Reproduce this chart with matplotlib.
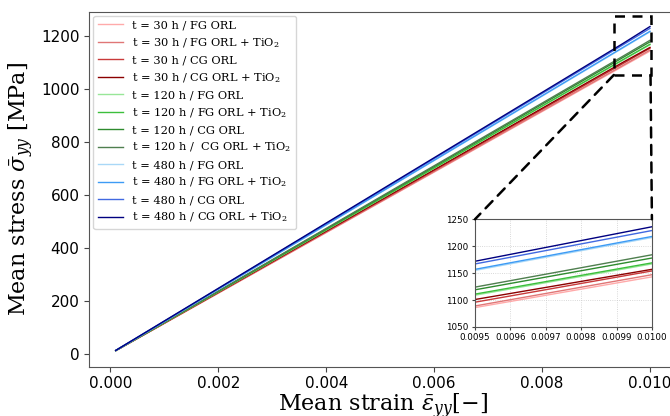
import matplotlib.pyplot as plt
from matplotlib.patches import Rectangle, ConnectionPatch

plt.rcParams['mathtext.fontset'] = 'dejavuserif'

# strain points where the stress was sampled
strain = [0.0001, 0.0095, 0.0100]

labels = [
    't = 30 h / FG ORL',
    't = 30 h / FG ORL + TiO$_2$',
    't = 30 h / CG ORL',
    't = 30 h / CG ORL + TiO$_2$',
    't = 120 h / FG ORL',
    't = 120 h / FG ORL + TiO$_2$',
    't = 120 h / CG ORL',
    't = 120 h /  CG ORL + TiO$_2$',
    't = 480 h / FG ORL',
    't = 480 h / FG ORL + TiO$_2$',
    't = 480 h / CG ORL',
    't = 480 h / CG ORL + TiO$_2$',
]

# mean stress [MPa] at each strain point
stress_30_fg = [11.5, 1086, 1143]
stress_30_fg_tio2 = [11.6, 1089, 1147]
stress_30_cg = [11.7, 1096, 1154]
stress_30_cg_tio2 = [11.8, 1101, 1157]
stress_120_fg = [11.9, 1109, 1167]
stress_120_fg_tio2 = [11.9, 1111, 1169]
stress_120_cg = [12.0, 1119, 1178]
stress_120_cg_tio2 = [12.1, 1124, 1184]
stress_480_fg = [12.3, 1155, 1216]
stress_480_fg_tio2 = [12.3, 1157, 1218]
stress_480_cg = [12.5, 1167, 1229]
stress_480_cg_tio2 = [12.6, 1172, 1236]

series = [stress_30_fg, stress_30_fg_tio2, stress_30_cg, stress_30_cg_tio2,
          stress_120_fg, stress_120_fg_tio2, stress_120_cg, stress_120_cg_tio2,
          stress_480_fg, stress_480_fg_tio2, stress_480_cg, stress_480_cg_tio2]

colors = ['#ffaaaa', '#e07676', '#c93a3a', '#8b0000',
          '#98e698', '#3cbf3c', '#2e8b2e', '#4f7f4f',
          '#a9d8f7', '#3d9bf5', '#4169e1', '#000080']

fig = plt.figure(figsize=(6.7, 4.16), dpi=100)
ax = fig.add_axes([0.1333, 0.1185, 0.8771, 0.8534])

for s, c, lab in zip(series, colors, labels):
    ax.plot(strain, s, color=c, lw=1.0, label=lab)

ax.set_xlim(-0.00039, 0.0105)
ax.set_ylim(-49, 1292)
ax.set_xticks([0.000, 0.002, 0.004, 0.006, 0.008, 0.010])
ax.set_yticks([0, 200, 400, 600, 800, 1000, 1200])
ax.tick_params(labelsize=11, color='#444444')
for sp in ax.spines.values():
    sp.set_color('#555555')

ax.set_xlabel(r'Mean strain $\bar{\varepsilon}_{yy}[-]$', family='DejaVu Serif',
              fontsize=16, labelpad=0)
ax.set_ylabel(r'Mean stress $\bar{\sigma}_{yy}$ [MPa]', family='DejaVu Serif',
              fontsize=16, labelpad=4)

leg = ax.legend(loc='upper left', prop={'family': 'DejaVu Serif', 'size': 8.2},
                labelspacing=0.5, handlelength=2.2, borderaxespad=0.35,
                fancybox=True, framealpha=0.8)

# zoom region and connectors
rect = Rectangle((0.00933, 1053), 0.00068, 222, fill=False, ls=(0, (4, 3)),
                 lw=1.8, color='black', zorder=5)
ax.add_patch(rect)

axins = fig.add_axes([0.709, 0.214, 0.264, 0.259])
for s, c in zip(series, colors):
    axins.plot(strain, s, color=c, lw=1.0)
axins.set_xlim(0.0095, 0.0100)
axins.set_ylim(1050, 1250)
axins.set_xticks([0.0095, 0.0096, 0.0097, 0.0098, 0.0099, 0.0100])
axins.set_xticklabels(['0.0095', '0.0096', '0.0097', '0.0098', '0.0099', '0.0100'])
axins.set_yticks([1050, 1100, 1150, 1200, 1250])
axins.tick_params(labelsize=6.3, length=2.5, pad=2, color='#444444')
axins.grid(True, ls=':', lw=0.6, color='#cccccc')
for sp in axins.spines.values():
    sp.set_color('#555555')

for (xa, ya), (xb, yb) in [((0.00933, 1053), (0, 1)), ((0.01001, 1053), (1, 1))]:
    con = ConnectionPatch(xyA=(xa, ya), coordsA=ax.transData,
                          xyB=(xb, yb), coordsB=axins.transAxes,
                          ls=(0, (4, 3)), lw=1.8, color='black')
    fig.add_artist(con)

plt.savefig('out.png', dpi=100)
